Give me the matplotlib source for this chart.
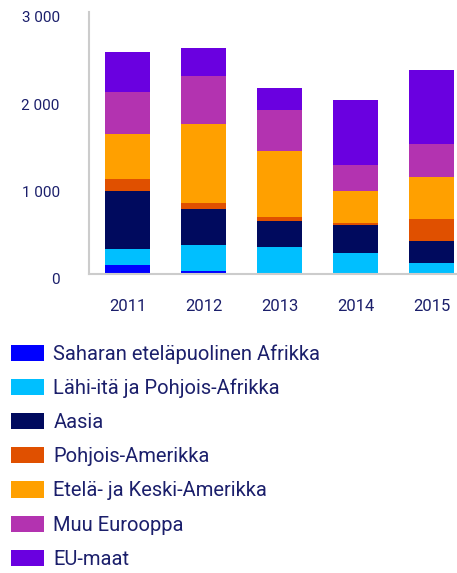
import matplotlib
matplotlib.use("Agg")
import matplotlib.pyplot as plt
import matplotlib.transforms as mtransforms
from matplotlib.patches import Patch
import numpy as np

years = ["2011", "2012", "2013", "2014", "2015"]
series_names = [
    "Saharan eteläpuolinen Afrikka",
    "Lähi-itä ja Pohjois-Afrikka",
    "Aasia",
    "Pohjois-Amerikka",
    "Etelä- ja Keski-Amerikka",
    "Muu Eurooppa",
    "EU-maat",
]
sahara = [103, 34, 11, 11, 11]
lahi_ita = [184, 299, 299, 230, 115]
aasia = [667, 414, 299, 322, 253]
pohjois_am = [138, 69, 46, 23, 253]
etela_am = [506, 897, 759, 368, 483]
muu_eur = [483, 552, 460, 299, 368]
eu_maat = [460, 322, 253, 736, 851]
series_values = [sahara, lahi_ita, aasia, pohjois_am, etela_am, muu_eur, eu_maat]
colors = ["#0000FF", "#00BFFF", "#000A5E", "#E05000", "#FFA000", "#B333B0", "#6A00E0"]
yticks = [0, 1000, 2000, 3000]
ytick_labels = ["0", "1 000", "2 000", "3 000"]

text_color = "#1B1F6B"
plt.rcParams["font.family"] = ["Roboto", "DejaVu Sans"]

fig = plt.figure(figsize=(4.57, 5.73), dpi=100)
ax = fig.add_axes([89 / 457, 1 - 274 / 573, (457 - 89) / 457, 262 / 573])

x = np.arange(len(years))
bottom = np.zeros(len(years))
for vals, col in zip(series_values, colors):
    ax.bar(x, vals, width=0.59, bottom=bottom, color=col, linewidth=0)
    bottom += np.array(vals)

ax.set_xlim(-0.507, 4.336)
ax.set_ylim(0, 3000)
ax.set_xticks(x)
ax.set_xticklabels(years, fontsize=12, color=text_color)
ax.set_yticks(yticks)
ax.set_yticklabels(ytick_labels, fontsize=11, color=text_color)
ax.tick_params(axis="both", length=0)
ax.tick_params(axis="x", pad=18)
ax.tick_params(axis="y", pad=21)
for lab in ax.get_yticklabels():
    lab.set_transform(lab.get_transform() + mtransforms.ScaledTranslation(0, -5 / 100, fig.dpi_scale_trans))
for s in ["top", "right"]:
    ax.spines[s].set_visible(False)
for s in ["left", "bottom"]:
    ax.spines[s].set_color("#CCCCCC")
    ax.spines[s].set_linewidth(1.5)

handles = [Patch(facecolor=c, edgecolor="none") for c in colors]
leg = fig.legend(handles, series_names, loc="upper left",
                 bbox_to_anchor=(11 / 457, 1 - 344 / 573),
                 frameon=False, fontsize=14.5, handlelength=1.65, handleheight=0.85,
                 handletextpad=0.45, labelspacing=0.75, borderaxespad=0, borderpad=0)
for t in leg.get_texts():
    t.set_color(text_color)

fig.savefig("out.png", dpi=100)
